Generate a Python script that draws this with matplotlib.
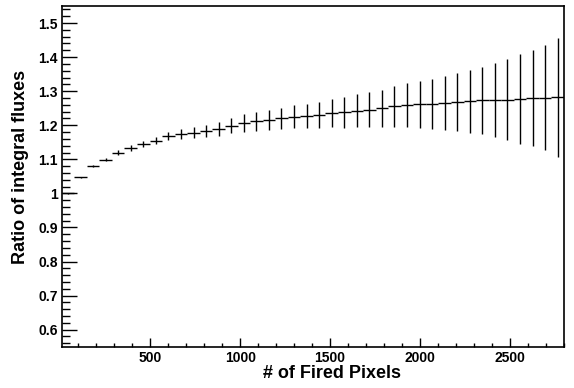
import numpy as np
import matplotlib
matplotlib.use("Agg")
import matplotlib.pyplot as plt
from matplotlib.ticker import MultipleLocator, FormatStrFormatter

# Histogram binning (40 bins)
x_start = 8.0
x_stop = 2800.0
n_bins = 40

ratio = [1.000, 1.047, 1.081, 1.099, 1.120, 1.133, 1.145, 1.155, 1.168, 1.175,
         1.178, 1.184, 1.189, 1.199, 1.206, 1.211, 1.216, 1.221, 1.225, 1.228,
         1.231, 1.235, 1.238, 1.243, 1.246, 1.250, 1.256, 1.259, 1.261, 1.263,
         1.265, 1.268, 1.270, 1.273, 1.274, 1.275, 1.277, 1.279, 1.281, 1.282]
ratio_err = [0.001, 0.002, 0.003, 0.005, 0.006, 0.009, 0.010, 0.011, 0.012, 0.014,
             0.016, 0.018, 0.020, 0.022, 0.026, 0.028, 0.030, 0.031, 0.033, 0.035,
             0.038, 0.041, 0.045, 0.048, 0.051, 0.054, 0.060, 0.064, 0.069, 0.073,
             0.079, 0.084, 0.092, 0.098, 0.108, 0.118, 0.131, 0.141, 0.155, 0.174]

x_label = "# of Fired Pixels"
y_label = "Ratio of integral fluxes"

edges = np.linspace(x_start, x_stop, n_bins + 1)
centers = 0.5 * (edges[:-1] + edges[1:])
half_w = 0.5 * (edges[1:] - edges[:-1])

plt.rcParams['font.family'] = ['Liberation Sans', 'DejaVu Sans']
plt.rcParams['font.weight'] = 'bold'

W, H = 574, 388
fig = plt.figure(figsize=(W / 100, H / 100), dpi=100)
ax = fig.add_axes([61.7 / W, 1 - 346.7 / H, (564 - 61.7) / W, (346.7 - 6) / H])

ax.errorbar(centers, ratio, xerr=half_w, yerr=ratio_err, fmt='none',
            ecolor='black', elinewidth=1.0, capsize=0)

ax.set_xlim(x_start, x_stop)
ax.set_ylim(0.55, 1.55)

ax.xaxis.set_major_locator(MultipleLocator(500))
ax.xaxis.set_minor_locator(MultipleLocator(100))
ax.yaxis.set_major_locator(MultipleLocator(0.1))
ax.yaxis.set_minor_locator(MultipleLocator(0.02))
ax.yaxis.set_major_formatter(FormatStrFormatter('%g'))
ax.xaxis.set_major_formatter(FormatStrFormatter('%g'))

ax.tick_params(axis='both', which='both', direction='in', top=False, right=False,
               width=1.0, labelsize=10)
ax.tick_params(axis='x', which='major', length=6.6, pad=3)
ax.tick_params(axis='x', which='minor', length=3.2)
ax.tick_params(axis='y', which='major', length=10.8, pad=3)
ax.tick_params(axis='y', which='minor', length=5.4)
for lab in ax.get_xticklabels() + ax.get_yticklabels():
    lab.set_fontweight('bold')

for s in ax.spines.values():
    s.set_linewidth(1.2)

fig.text(331.7 / W, 1 - 373 / H, x_label, ha='center', va='center',
         fontsize=13, fontweight='bold')
fig.text(21 / W, 1 - 167 / H, y_label, ha='center', va='center',
         rotation=90, fontsize=13, fontweight='bold')

fig.savefig("out.png", dpi=100)
